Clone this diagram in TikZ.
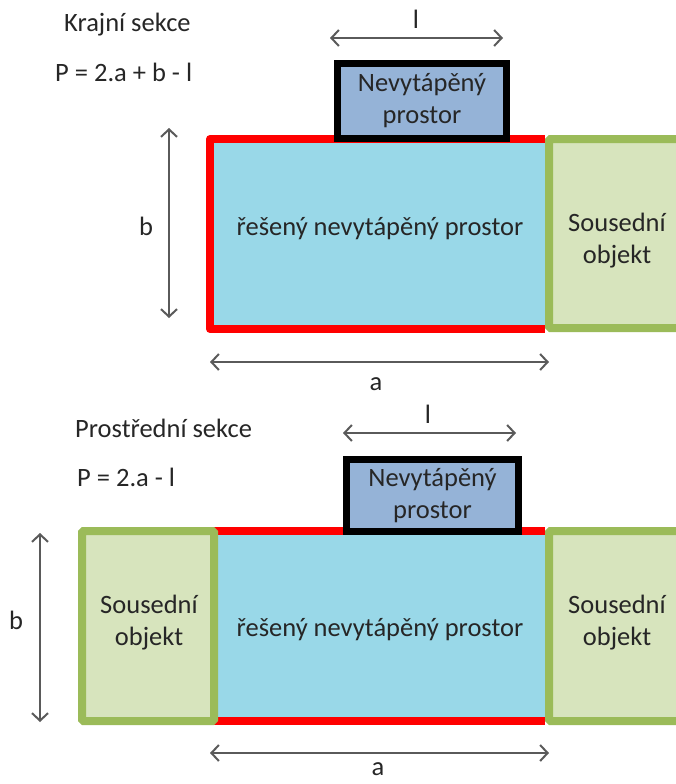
\documentclass[tikz,border=0pt]{standalone}
\usepackage{fontspec}
\setmainfont{Carlito}
\usetikzlibrary{arrows.meta}
\definecolor{roomblue}{RGB}{153,216,232}
\definecolor{nbfill}{RGB}{215,228,189}
\definecolor{nbline}{RGB}{155,187,89}
\definecolor{unheated}{RGB}{149,179,215}
\definecolor{wallred}{RGB}{255,0,0}
\definecolor{txt}{RGB}{38,38,38}
\definecolor{dim}{RGB}{90,90,90}
\begin{document}
\begin{tikzpicture}[x=1pt,y=-1pt,
  every node/.style={font=\fontsize{26.5}{32}\selectfont, text=txt},
  area/.style={inner sep=0pt, outer sep=0pt, anchor=north west},
  room/.style={area, fill=roomblue},
  neighbour/.style={area, fill=nbfill, draw=nbline, line width=8pt, rounded corners=1.5pt},
  unheatedbox/.style={area, fill=unheated, draw=black, line width=7pt, align=center, anchor=center},
  wall/.style={draw=wallred, line width=8pt, line join=round},
  dimline/.style={draw=dim, line width=2pt, {Straight Barb[length=7.5pt,width=16pt]}-{Straight Barb[length=7.5pt,width=16pt]}},
  lbl/.style={inner sep=0pt, align=center}]
\useasboundingbox (0,0) rectangle (675,784);

% ---------- Krajní sekce ----------
\node[lbl, anchor=west] (k1) at (64,25) {Krajní sekce};
\node[lbl, anchor=west] (k2) at (55,72) {P = 2.a + b - l};

\node[room, minimum width=335pt, minimum height=190pt] (r1) at (210,139) {};
\draw[wall] (r1.north east) -- (r1.north west) -- (r1.south west) -- (r1.south east);
\node[lbl] (r1t) at (380,229) {řešený nevytápěný prostor};

\node[neighbour, minimum width=160pt, minimum height=189pt] (n1) at (549,139) {};
\node[lbl] (n1t) at (617,241) {Sousední\\objekt};

\node[unheatedbox, minimum width=169pt, minimum height=75pt] (u1) at (422,101) {Nevytápěný\\prostor};

\coordinate (l1a) at (330,38);  \coordinate (l1b) at (503,38);
\draw[dimline] (l1a) -- (l1b);
\node[lbl] (l1t) at (416,19) {l};

\coordinate (b1a) at (169,128); \coordinate (b1b) at (169,318);
\draw[dimline] (b1a) -- (b1b);
\node[lbl] (b1t) at (146,226) {b};

\coordinate (a1a) at (210,362); \coordinate (a1b) at (549,362);
\draw[dimline] (a1a) -- (a1b);
\node[lbl] (a1t) at (376,384) {a};

% ---------- Prostřední sekce ----------
\node[lbl, anchor=west] (p1) at (75,428) {Prostřední sekce};
\node[lbl, anchor=west] (p2) at (77,477) {P = 2.a - l};

\node[room, minimum width=331pt, minimum height=190pt] (r2) at (214,531) {};
\draw[wall] (r2.north west) -- (r2.north east);
\draw[wall] (r2.south west) -- (r2.south east);
\node[lbl] (r2t) at (380,630) {řešený nevytápěný prostor};

\node[neighbour, minimum width=132pt, minimum height=190pt] (n2) at (82,531) {};
\node[lbl] (n2t) at (149,623) {Sousední\\objekt};

\node[neighbour, minimum width=160pt, minimum height=190pt] (n3) at (549,531) {};
\node[lbl] (n3t) at (617,623) {Sousední\\objekt};

\node[unheatedbox, minimum width=172pt, minimum height=72pt] (u2) at (432.5,495.5) {Nevytápěný\\prostor};

\coordinate (l2a) at (343,433); \coordinate (l2b) at (516,433);
\draw[dimline] (l2a) -- (l2b);
\node[lbl] (l2t) at (428,414) {l};

\coordinate (b2a) at (40,533); \coordinate (b2b) at (40,722);
\draw[dimline] (b2a) -- (b2b);
\node[lbl] (b2t) at (16,620) {b};

\coordinate (a2a) at (210,753); \coordinate (a2b) at (549,753);
\draw[dimline] (a2a) -- (a2b);
\node[lbl] (a2t) at (378,769) {a};
\end{tikzpicture}
\end{document}
